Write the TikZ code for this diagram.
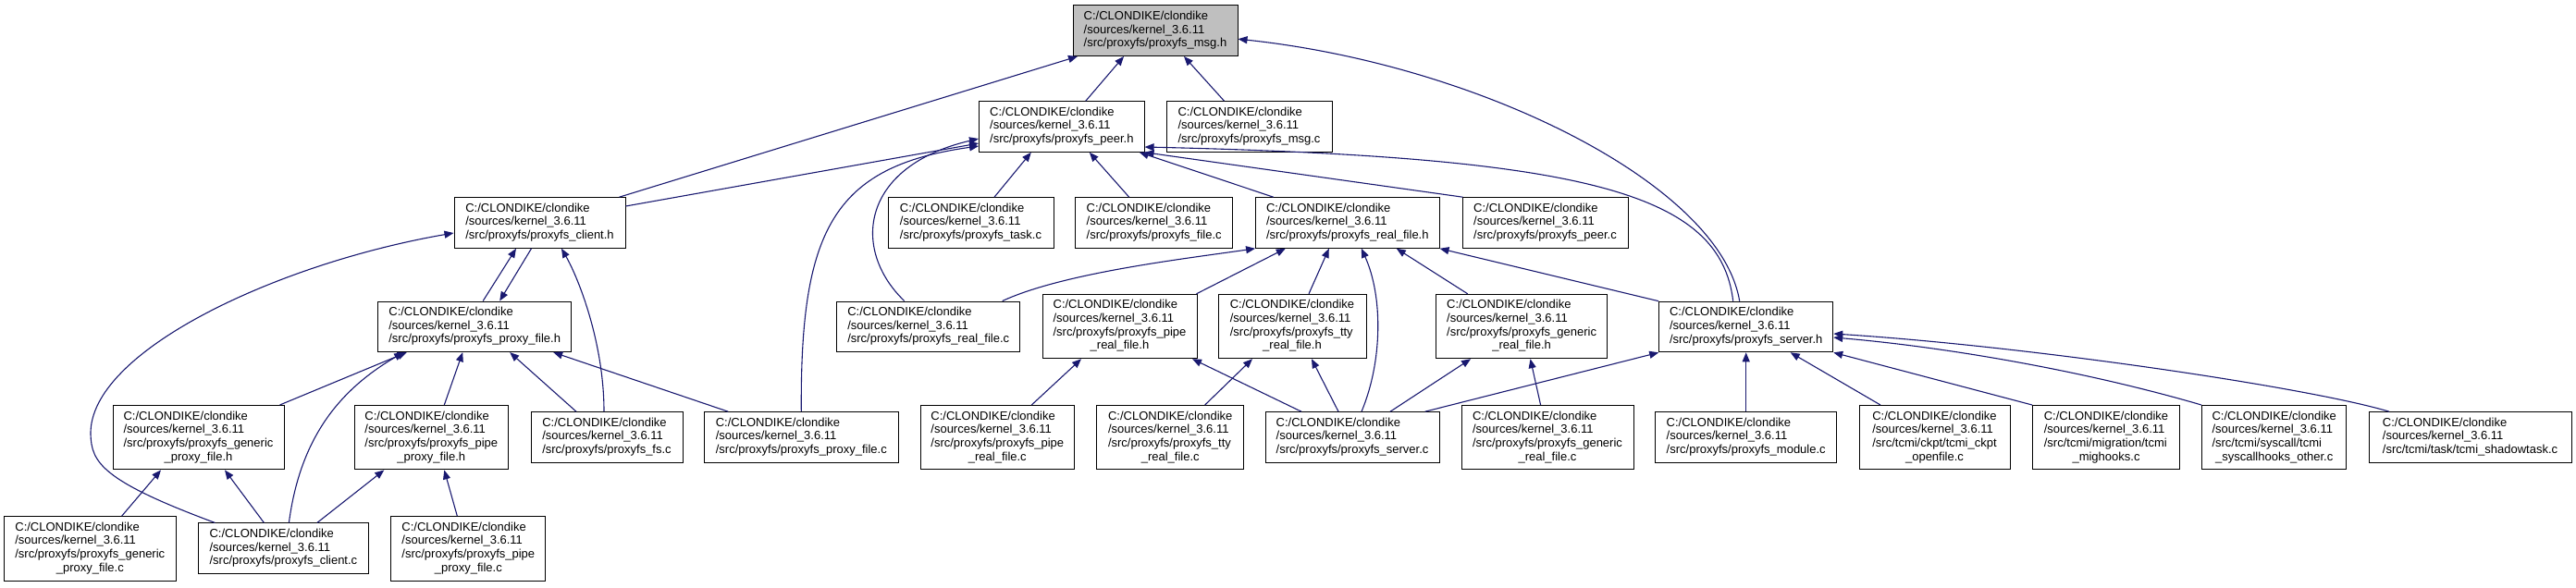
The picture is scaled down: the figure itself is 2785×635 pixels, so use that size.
\documentclass[tikz,border=0pt]{standalone}
\usepackage{fontspec}
\setmainfont{Liberation Sans}
\usetikzlibrary{arrows.meta,calc}
\definecolor{edgeblue}{HTML}{191970}
\definecolor{rootgray}{HTML}{BFBFBF}
\newcommand\tl[1]{\begin{tabular}{@{}l@{}}C:/CLONDIKE/clondike\\/sources/kernel\_3.6.11\\#1\end{tabular}}
\newcommand\fl[2]{\begin{tabular}{@{}l@{}}C:/CLONDIKE/clondike\\/sources/kernel\_3.6.11\\#1\\\multicolumn{1}{@{}c@{}}{#2}\end{tabular}}
\begin{document}
\begin{tikzpicture}[x=1pt,y=-1pt,
  box/.style={draw=black,line width=1pt,fill=white,inner sep=0pt,minimum height=54.6pt,font=\fontsize{13}{14.7}\selectfont},
  tall/.style={minimum height=69.4pt},
  edge/.style={draw=edgeblue,line width=1.1pt,-{Triangle[length=10pt,width=8pt]}}]
\useasboundingbox (0,0) rectangle (2785,635);
% nodes
\node[box,fill=rootgray,minimum width=178pt] (msg) at (1249,33.2) {\tl{/src/proxyfs/proxyfs\_msg.h}};
\node[box,minimum width=178.5pt] (peer) at (1147.8,137) {\tl{/src/proxyfs/proxyfs\_peer.h}};
\node[box,minimum width=179pt] (msgc) at (1350.5,137) {\tl{/src/proxyfs/proxyfs\_msg.c}};
\node[box,minimum width=185pt] (clienth) at (583.5,241) {\tl{/src/proxyfs/proxyfs\_client.h}};
\node[box,minimum width=179pt] (taskc) at (1049.5,241) {\tl{/src/proxyfs/proxyfs\_task.c}};
\node[box,minimum width=170.5pt] (filec) at (1247.7,241) {\tl{/src/proxyfs/proxyfs\_file.c}};
\node[box,minimum width=198.4pt] (realh) at (1456.8,241) {\tl{/src/proxyfs/proxyfs\_real\_file.h}};
\node[box,minimum width=179pt] (peerc) at (1670.5,241) {\tl{/src/proxyfs/proxyfs\_peer.c}};
\node[box,minimum width=209.5pt] (proxyh) at (513.2,353.3) {\tl{/src/proxyfs/proxyfs\_proxy\_file.h}};
\node[box,minimum width=198.5pt] (realc) at (1003.7,353.3) {\tl{/src/proxyfs/proxyfs\_real\_file.c}};
\node[box,tall,minimum width=167pt] (piperealh) at (1210.5,353) {\fl{/src/proxyfs/proxyfs\_pipe}{\_real\_file.h}};
\node[box,tall,minimum width=160pt] (ttyrealh) at (1397,353) {\fl{/src/proxyfs/proxyfs\_tty}{\_real\_file.h}};
\node[box,tall,minimum width=184.8pt] (genrealh) at (1645.1,353) {\fl{/src/proxyfs/proxyfs\_generic}{\_real\_file.h}};
\node[box,minimum width=188pt] (serverh) at (1887.7,353.5) {\tl{/src/proxyfs/proxyfs\_server.h}};
\node[box,tall,minimum width=185pt] (genproxyh) at (214.5,473.2) {\fl{/src/proxyfs/proxyfs\_generic}{\_proxy\_file.h}};
\node[box,tall,minimum width=166.6pt] (pipeproxyh) at (466.3,473.2) {\fl{/src/proxyfs/proxyfs\_pipe}{\_proxy\_file.h}};
\node[box,minimum width=164pt] (fsc) at (656,473) {\tl{/src/proxyfs/proxyfs\_fs.c}};
\node[box,minimum width=209.4pt] (proxyc) at (866.3,473) {\tl{/src/proxyfs/proxyfs\_proxy\_file.c}};
\node[box,tall,minimum width=166.6pt] (piperealc) at (1078.3,473.2) {\fl{/src/proxyfs/proxyfs\_pipe}{\_real\_file.c}};
\node[box,tall,minimum width=158.9pt] (ttyrealc) at (1265.2,473.2) {\fl{/src/proxyfs/proxyfs\_tty}{\_real\_file.c}};
\node[box,minimum width=188pt] (serverc) at (1462,473) {\tl{/src/proxyfs/proxyfs\_server.c}};
\node[box,tall,minimum width=186pt] (genrealc) at (1673,473.2) {\fl{/src/proxyfs/proxyfs\_generic}{\_real\_file.c}};
\node[box,minimum width=196pt] (modulec) at (1887.7,473) {\tl{/src/proxyfs/proxyfs\_module.c}};
\node[box,tall,minimum width=163pt] (ckptc) at (2091.5,473.2) {\fl{/src/tcmi/ckpt/tcmi\_ckpt}{\_openfile.c}};
\node[box,tall,minimum width=159pt] (migc) at (2277,473.2) {\fl{/src/tcmi/migration/tcmi}{\_mighooks.c}};
\node[box,tall,minimum width=156.3pt] (syscallc) at (2458.7,473.2) {\fl{/src/tcmi/syscall/tcmi}{\_syscallhooks\_other.c}};
\node[box,minimum width=219pt] (shadowc) at (2670.5,473) {\tl{/src/tcmi/task/tcmi\_shadowtask.c}};
\node[box,tall,minimum width=185.5pt] (genproxyc) at (97.3,593.3) {\fl{/src/proxyfs/proxyfs\_generic}{\_proxy\_file.c}};
\node[box,minimum width=184.7pt] (clientc) at (306.4,593.2) {\tl{/src/proxyfs/proxyfs\_client.c}};
\node[box,tall,minimum width=167pt] (pipeproxyc) at (506.3,593.3) {\fl{/src/proxyfs/proxyfs\_pipe}{\_proxy\_file.c}};
% edges to msg.h
\draw[edge] ([xshift=26pt]peer.north) -- ([xshift=-34pt]msg.south);
\draw[edge] ([xshift=-27pt]msgc.north) -- ([xshift=31pt]msg.south);
\draw[edge] ([xshift=86pt]clienth.north) -- ([xshift=-84pt]msg.south);
\draw[edge] ([xshift=-7pt]serverh.north) .. controls (1860,200) and (1600,70) .. ([yshift=-9pt]msg.east);
% edges to peer.h
\draw[edge] ([yshift=18pt]clienth.east) -- ([yshift=-18pt]peer.west);
\draw[edge] ([xshift=25.5pt]taskc.north) -- ([xshift=-33pt]peer.south);
\draw[edge] ([xshift=-27pt]filec.north) -- ([xshift=30pt]peer.south);
\draw[edge] ([xshift=-80pt]realh.north) -- ([xshift=84pt]peer.south);
\draw[edge] ([xshift=-89pt]peerc.north) -- (peer.south east);
\draw[edge] ([xshift=-14pt]serverh.north) .. controls (1860,210) and (1720,170) .. ([yshift=-22pt]peer.east);
\draw[edge] ([xshift=-26pt]realc.north) .. controls (920,270) and (930,180) .. ([yshift=-13pt]peer.west);
\draw[edge] (proxyc.north) .. controls (865,250) and (900,180) .. ([yshift=-21pt]peer.west);
% edges to client.h
\draw[edge] ([xshift=9pt]proxyh.north) -- ([xshift=-25.5pt]clienth.south);
\draw[edge] ([xshift=-3pt]fsc.north) .. controls (653,370) and (625,300) .. ([xshift=23.5pt]clienth.south);
\draw[edge] ([xshift=-74pt]clientc.north) .. controls (110,520) and (99,500) .. (98,470) .. controls (96,380) and (300,285) .. ([yshift=-11pt]clienth.west);
% edges to proxy_file.h
\draw[edge] ([xshift=-9pt]clienth.south) -- ([xshift=27pt]proxyh.north);
\draw[edge] ([xshift=88pt]genproxyh.north) -- ([xshift=-73.5pt]proxyh.south);
\draw[edge] ([xshift=6pt]clientc.north) .. controls (325,470) and (370,420) .. ([xshift=-77pt]proxyh.south);
\draw[edge] ([xshift=14pt]pipeproxyh.north) -- ([xshift=-13pt]proxyh.south);
\draw[edge] ([xshift=-33pt]fsc.north) -- ([xshift=38pt]proxyh.south);
\draw[edge] ([xshift=-79pt]proxyc.north) -- ([xshift=85pt]proxyh.south);
% generic / pipe proxy
\draw[edge] ([xshift=34.4pt]genproxyc.north) -- ([xshift=-40.5pt]genproxyh.south);
\draw[edge] ([xshift=-21pt]clientc.north) -- ([xshift=28.5pt]genproxyh.south);
\draw[edge] ([xshift=36.5pt]clientc.north) -- ([xshift=-51pt]pipeproxyh.south);
\draw[edge] ([xshift=-12pt]pipeproxyc.north) -- ([xshift=14pt]pipeproxyh.south);
% edges to real_file.h
\draw[edge] ([xshift=80pt]realc.north) .. controls (1150,295) and (1280,280) .. (realh.south west);
\draw[edge] ([xshift=83pt]piperealh.north) -- ([xshift=-67pt]realh.south);
\draw[edge] ([xshift=18pt]ttyrealh.north) -- ([xshift=-20pt]realh.south);
\draw[edge] ([xshift=10pt]serverc.north) .. controls (1495,390) and (1495,320) .. ([xshift=15pt]realh.south);
\draw[edge] ([xshift=-58.4pt]genrealh.north) -- ([xshift=53pt]realh.south);
\draw[edge] (serverh.north west) -- (realh.south east);
% pipe/tty/generic real
\draw[edge] ([xshift=37pt]piperealc.north) -- ([xshift=-41.5pt]piperealh.south);
\draw[edge] ([xshift=-55pt]serverc.north) -- ([xshift=78.5pt]piperealh.south);
\draw[edge] ([xshift=37.5pt]ttyrealc.north) -- ([xshift=-43pt]ttyrealh.south);
\draw[edge] ([xshift=-15pt]serverc.north) -- ([xshift=21pt]ttyrealh.south);
\draw[edge] ([xshift=41pt]serverc.north) -- ([xshift=-55pt]genrealh.south);
\draw[edge] ([xshift=-7.4pt]genrealc.north) -- ([xshift=9.4pt]genrealh.south);
% edges to server.h
\draw[edge] ([xshift=78.6pt]serverc.north) -- (serverh.south west);
\draw[edge] (modulec.north) -- (serverh.south);
\draw[edge] ([xshift=-58.5pt]ckptc.north) -- ([xshift=48pt]serverh.south);
\draw[edge] (migc.north west) -- (serverh.south east);
\draw[edge] (syscallc.north west) .. controls (2250,400) and (2100,375) .. ([yshift=-11.5pt]serverh.east);
\draw[edge] ([xshift=-87.5pt]shadowc.north) .. controls (2500,420) and (2200,375) .. ([yshift=-7.5pt]serverh.east);
\end{tikzpicture}
\end{document}
